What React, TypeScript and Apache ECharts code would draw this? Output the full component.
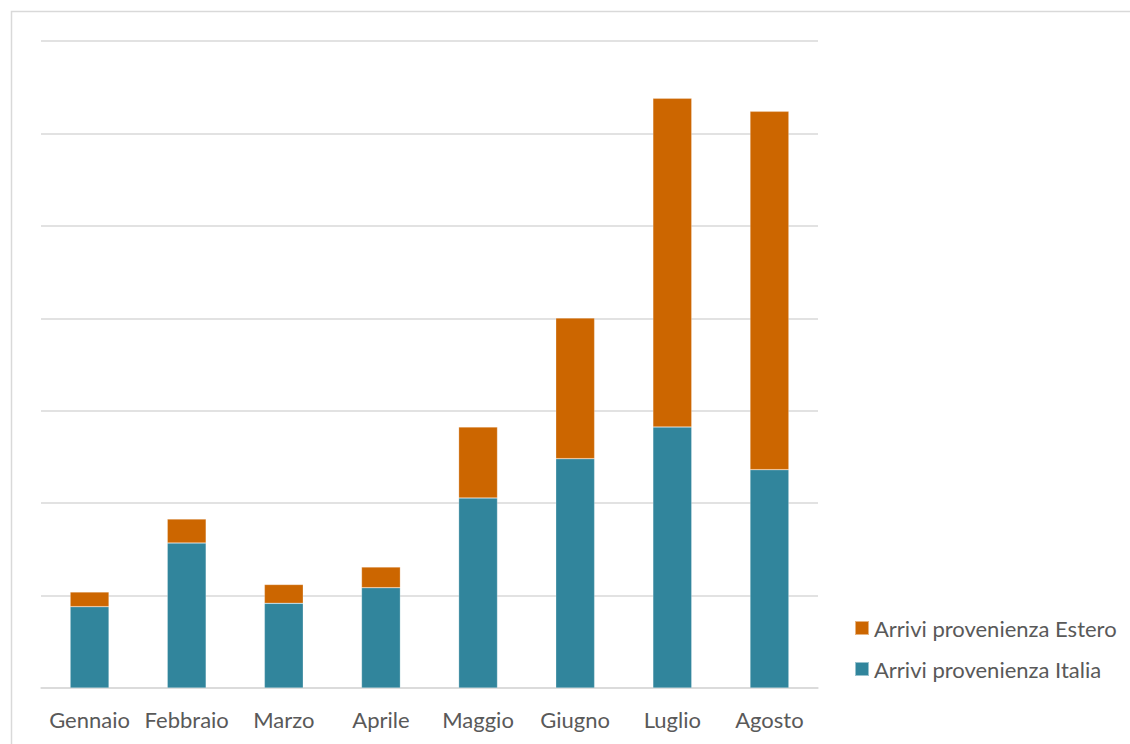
import React, { useEffect, useRef } from "react";
import * as echarts from "echarts";

const categories = ["Gennaio", "Febbraio", "Marzo", "Aprile", "Maggio", "Giugno", "Luglio", "Agosto"];
const italia = [8800, 15690, 9160, 10850, 20560, 24810, 28240, 23620];
const estero = [1590, 2590, 2040, 2240, 7680, 15220, 35560, 38770];
const seriesNames = ["Arrivi provenienza Estero", "Arrivi provenienza Italia"];

export default function App() {
  const ref = useRef<HTMLDivElement>(null);
  useEffect(() => {
    if (!ref.current) return;
    const chart = echarts.init(ref.current, null, { renderer: "svg" });
    const font = "Lato, 'Open Sans', sans-serif";
    chart.setOption({
      animation: false,
      backgroundColor: "#ffffff",
      graphic: [
        {
          type: "rect",
          shape: { x: 11.5, y: 11.5, width: 1200, height: 800 },
          style: { fill: "none", stroke: "#d9d9d9", lineWidth: 1.5 },
          silent: true,
        },
      ],
      grid: { left: 41, right: 312, top: 41, bottom: 56, containLabel: false },
      legend: {
        orient: "vertical",
        left: 854,
        top: 617,
        padding: 0,
        itemWidth: 14,
        itemHeight: 14,
        itemGap: 19,
        icon: "rect",
        data: seriesNames,
        textStyle: { color: "#595959", fontSize: 22, lineHeight: 22, fontFamily: font },
      },
      xAxis: {
        type: "category",
        data: categories,
        axisLine: { show: true, lineStyle: { color: "#d9d9d9", width: 1.5 } },
        axisTick: { show: false },
        axisLabel: { color: "#595959", fontSize: 22, fontFamily: font, margin: 20, interval: 0 },
      },
      yAxis: {
        type: "value",
        min: 0,
        max: 70000,
        interval: 10000,
        axisLabel: { show: false },
        axisLine: { show: false },
        axisTick: { show: false },
        splitLine: { lineStyle: { color: "#d9d9d9", width: 1.5 } },
      },
      series: [
        {
          name: seriesNames[1],
          type: "bar",
          stack: "total",
          barWidth: "40%",
          data: italia,
          itemStyle: { color: "#31859c", borderColor: "rgba(255,255,255,0.5)", borderWidth: 0.5 },
        },
        {
          name: seriesNames[0],
          type: "bar",
          stack: "total",
          barWidth: "40%",
          data: estero,
          itemStyle: { color: "#cc6600", borderColor: "rgba(255,255,255,0.5)", borderWidth: 0.5 },
        },
      ],
    });
    return () => chart.dispose();
  }, []);
  return (
    <div
      ref={ref}
      style={{ position: "absolute", left: 0, top: 0, width: 1130, height: 744 }}
    />
  );
}
